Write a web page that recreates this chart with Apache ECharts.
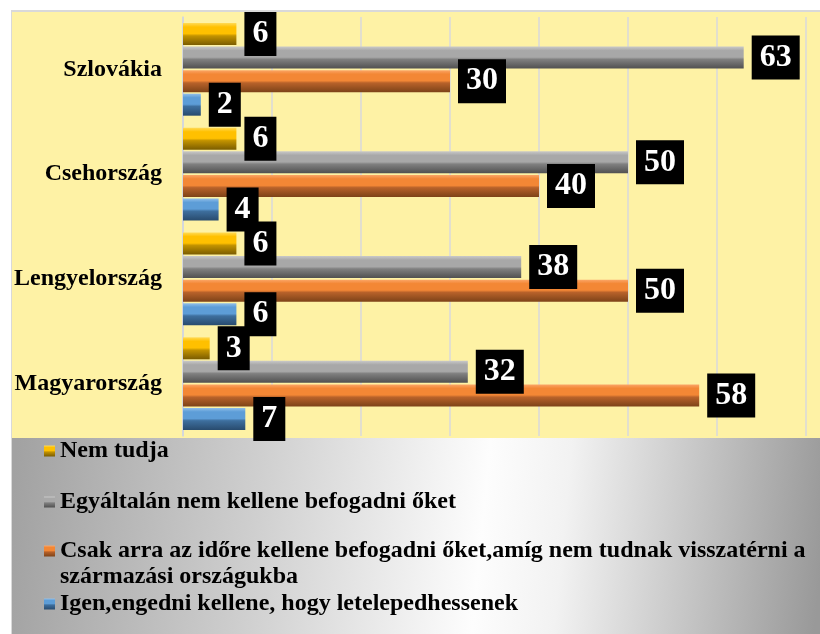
<!DOCTYPE html>
<html><head><meta charset="utf-8">
<script src="https://cdn.jsdelivr.net/npm/echarts@6/dist/echarts.min.js"></script>
<style>html,body{margin:0;padding:0;background:#fff}#c{width:820px;height:634px}</style>
</head><body><div id="c"></div>
<script>
const categories = ['Magyarország', 'Lengyelország', 'Csehország', 'Szlovákia'];
const seriesNames = [
  'Nem tudja',
  'Egyáltalán nem kellene befogadni őket',
  'Csak arra az időre kellene befogadni őket,amíg nem tudnak visszatérni a származási országukba',
  'Igen,engedni kellene, hogy letelepedhessenek'
];
const nemTudja = [3, 6, 6, 6];
const egyaltalan = [32, 38, 50, 63];
const csakArra = [58, 50, 40, 30];
const igen = [7, 6, 4, 2];
const xTicks = [0, 10, 20, 30, 40, 50, 60, 70];

const serif = '"Liberation Serif", "Times New Roman", serif';
function grad(top, base, low, bottom) {
  return { type: 'linear', x: 0, y: 0, x2: 0, y2: 1, colorStops: [
    { offset: 0, color: top }, { offset: 0.18, color: base }, { offset: 0.48, color: base },
    { offset: 0.58, color: low }, { offset: 1, color: bottom }] };
}
const colors = [
  grad('#FFDA55', '#FFC000', '#C39300', '#7A5C00'),
  grad('#C8C8C8', '#A8A8A8', '#808080', '#505050'),
  grad('#FBA668', '#F38735', '#B8622A', '#7E4318'),
  grad('#92C0EA', '#5D9DD7', '#3E6F9E', '#284B6E')
];
const datas = [nemTudja, egyaltalan, csakArra, igen];

const chart = echarts.init(document.getElementById('c'), null, { renderer: 'canvas' });
const series = seriesNames.map((n, i) => ({
  name: n, type: 'bar', data: datas[i], barWidth: 22, barGap: '7%',
  itemStyle: { color: colors[i] },
  label: {
    show: true, position: 'right', distance: 8, formatter: '{c}',
    color: '#fff', backgroundColor: '#000', fontFamily: serif, fontWeight: 'bold',
    fontSize: 32, lineHeight: 32, padding: [6, 8, 6, 8]
  }
}));

const legendTops = [438, 489, 512, 591];
const legends = seriesNames.map((n, i) => ({
  data: [n], left: 44, top: legendTops[i], orient: 'vertical', padding: 0,
  itemWidth: 11, itemHeight: 11, icon: 'rect', selectedMode: false,
  formatter: (name) => i === 2 ? '\n' + name.replace('visszatérni a ', 'visszatérni a\n') : name,
  textStyle: { fontFamily: serif, fontWeight: 'bold', fontSize: 24, lineHeight: 26, color: '#000' }
}));

chart.setOption({
  animation: false,
  backgroundColor: '#fff',
  graphic: [
    { type: 'rect', z: -10, shape: { x: 11, y: 10, width: 809, height: 624 }, style: { fill: '#d9d9d9' } },
    { type: 'rect', z: -9, shape: { x: 12, y: 12, width: 808, height: 426 }, style: { fill: '#FEF2A5' } },
    { type: 'rect', z: -9, shape: { x: 12, y: 438, width: 808, height: 196 },
      style: { fill: { type: 'linear', x: 0, y: 0.3, x2: 1, y2: 0.7, colorStops: [
        { offset: 0, color: '#a2a2a2' }, { offset: 0.3, color: '#cfcfcf' }, { offset: 0.58, color: '#fdfdfd' },
        { offset: 0.68, color: '#f2f2f2' }, { offset: 1, color: '#999999' }] } } }
  ],
  grid: { left: 183, right: 14, top: 17, bottom: 198, containLabel: false },
  xAxis: {
    type: 'value', min: xTicks[0], max: xTicks[xTicks.length - 1], interval: 10,
    axisLabel: { show: false }, axisLine: { show: false }, axisTick: { show: false },
    splitLine: { show: true, lineStyle: { color: '#d8d8dc', width: 1.5 } }
  },
  yAxis: {
    type: 'category', data: categories,
    axisTick: { show: false },
    axisLine: { show: true, lineStyle: { color: '#cfd5e0', width: 1.5 } },
    axisLabel: { fontFamily: serif, fontWeight: 'bold', fontSize: 24, color: '#000', margin: 21 }
  },
  legend: legends,
  series: series
});
</script></body></html>
